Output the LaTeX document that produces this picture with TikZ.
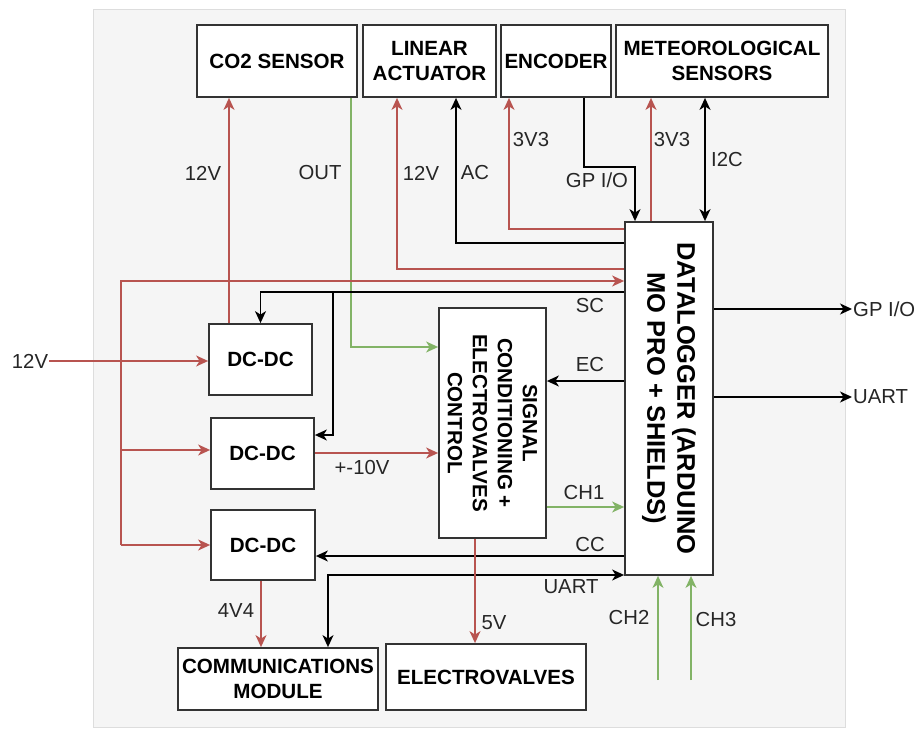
\documentclass[tikz,border=0pt]{standalone}
\usepackage{fontspec}
\setmainfont{Liberation Sans}
\usetikzlibrary{arrows.meta}
\definecolor{pwr}{HTML}{B85450}
\definecolor{sgn}{HTML}{82B366}
\definecolor{bord}{HTML}{333333}
\definecolor{bgfill}{HTML}{F5F5F5}
\definecolor{bgline}{HTML}{DDDDDD}
\begin{document}
\begin{tikzpicture}[x=1pt,y=-1pt,
  >={Stealth[length=12pt,width=11pt,inset=3.5pt]},
  box/.style={draw=bord, line width=1.8pt, fill=white, inner sep=0pt, align=center, text=black,
    font=\fontsize{20.6}{24.5}\selectfont\bfseries},
  rottext/.style={rotate=-90, align=center, inner sep=0pt, text=black},
  lbl/.style={font=\fontsize{20.3}{24}\selectfont, text=black!85, inner sep=1pt},
  wire/.style={line width=1.5pt, ->},
  blk/.style={wire, draw=black},
  pw/.style={wire, draw=pwr},
  gr/.style={wire, draw=sgn}
]
\useasboundingbox (0,0) rectangle (921,735);
\fill[white] (0,0) rectangle (921,735);
\draw[bgline, fill=bgfill, line width=1pt] (93,10) rectangle (845,727);

% boxes
\node[box, minimum width=160pt, minimum height=72pt] (co2) at (277,61) {CO2 SENSOR};
\node[box, minimum width=133pt, minimum height=72pt] (lin) at (429.5,61) {LINEAR\\ACTUATOR};
\node[box, minimum width=110pt, minimum height=72pt] (enc) at (556,61) {ENCODER};
\node[box, minimum width=212pt, minimum height=72pt] (met) at (722,61) {METEOROLOGICAL\\SENSORS};
\node[box, minimum width=88pt, minimum height=353pt] (dl) at (669,398.5) {};
\node[rottext, font=\fontsize{25.5}{30}\selectfont\bfseries] (dltext) at (dl.center) {DATALOGGER (ARDUINO\\MO PRO + SHIELDS)};
\node[box, minimum width=107pt, minimum height=230pt] (sig) at (492.5,423) {};
\node[rottext, font=\fontsize{20.6}{25}\selectfont\bfseries] (sigtext) at (sig.center) {SIGNAL\\CONDITIONING +\\ELECTROVALVES\\CONTROL};
\node[box, minimum width=103pt, minimum height=71pt] (dc1) at (260.5,359.5) {DC-DC};
\node[box, minimum width=103pt, minimum height=71pt] (dc2) at (262.5,453.5) {DC-DC};
\node[box, minimum width=104pt, minimum height=70pt] (dc3) at (263,545) {DC-DC};
\node[box, minimum width=200pt, minimum height=62pt] (com) at (278,679) {COMMUNICATIONS\\MODULE};
\node[box, minimum width=200pt, minimum height=66pt] (ev) at (486,677) {ELECTROVALVES};

% helper coordinates
\coordinate (x121) at (121,0);
\coordinate (x229) at (229,0);
\coordinate (x261) at (261,0);
\coordinate (x328) at (328,0);
\coordinate (x333) at (333,0);
\coordinate (x351) at (351,0);
\coordinate (x397) at (397,0);
\coordinate (x456) at (456,0);
\coordinate (x475) at (475,0);
\coordinate (x509) at (509,0);
\coordinate (x584) at (584,0);
\coordinate (x635) at (635,0);
\coordinate (x651) at (651,0);
\coordinate (x705) at (705,0);
\coordinate (y167) at (0,167);
\coordinate (y229) at (0,229);
\coordinate (y243) at (0,243);
\coordinate (y269) at (0,269);
\coordinate (y281) at (0,281);
\coordinate (y292) at (0,292);
\coordinate (y347) at (0,347);
\coordinate (y381) at (0,381);
\coordinate (y435) at (0,435);
\coordinate (y450) at (0,450);
\coordinate (y453) at (0,453);
\coordinate (y507) at (0,507);
\coordinate (y556) at (0,556);
\coordinate (y575) at (0,575);

% top connectors
\draw[pw] (dc1.north -| x229) -- (co2.south -| x229);
\node[lbl] (l12a) at (203,173) {12V};
\draw[gr] (co2.south -| x351) |- (sig.west |- y347);
\node[lbl] (lout) at (320,173) {OUT};
\draw[pw] (dl.west |- y269) -| (lin.south -| x397);
\node[lbl] (l12b) at (421,173) {12V};
\draw[blk] (dl.west |- y243) -| (lin.south -| x456);
\node[lbl] (lac) at (475,173) {AC};
\draw[pw] (dl.west |- y229) -| (enc.south -| x509);
\node[lbl] (l3a) at (531,140) {3V3};
\draw[blk] (enc.south -| x584) |- (y167 -| x635) -- (dl.north -| x635);
\node[lbl] (lgp) at (597,180) {GP I/O};
\draw[pw] (dl.north -| x651) -- (met.south -| x651);
\node[lbl] (l3b) at (672,140) {3V3};
\draw[blk, <->] (dl.north -| x705) -- (met.south -| x705);
\node[lbl] (li2c) at (727,160) {I2C};

% 12V input and bus
\node[lbl] (lin12) at (30,361) {12V};
\draw[pw] (lin12.east) -- (lin12.east -| dc1.west);
\draw[pw] (x121 |- dc3.west) |- (dl.west |- y281);
\draw[pw] (x121 |- dc3.west) -- (dc3.west);
\draw[pw] (x121 |- y450) -- (dc2.west |- y450);

% SC
\draw[blk] (dl.west |- y292) -| (dc1.north);
\draw[blk] (x333 |- y292) |- (dc2.east |- y435);
\node[lbl] (lsc) at (590,306) {SC};

% +-10V
\draw[pw] (dc2.east |- y453) -- (sig.west |- y453);
\node[lbl] (l10) at (362,468) {+-10V};

% EC
\draw[blk] (dl.west |- y381) -- (sig.east |- y381);
\node[lbl] (lec) at (590,365) {EC};

% right outputs
\node[lbl, anchor=west] (ogp) at (852,309) {GP I/O};
\draw[blk] (dl.east |- ogp.west) -- (ogp.west);
\node[lbl, anchor=west] (ouart) at (852,397) {UART};
\draw[blk] (dl.east |- ouart.west) -- (ouart.west);

% CH1, CC, UART
\draw[gr] (sig.east |- y507) -- (dl.west |- y507);
\node[lbl] (lch1) at (584,493) {CH1};
\draw[blk] (dl.west |- y556) -- (dc3.east |- y556);
\node[lbl] (lcc) at (590,545) {CC};
\draw[blk, <->] (dl.west |- y575) -| (com.north -| x328);
\node[lbl] (luart) at (571,587) {UART};

% bottom
\draw[pw] (dc3.south -| x261) -- (com.north -| x261);
\node[lbl] (l4v4) at (236,611) {4V4};
\draw[pw] (sig.south -| x475) -- (ev.north -| x475);
\node[lbl] (l5v) at (494,623) {5V};
\coordinate (c2) at (658,680);
\draw[gr] (c2) -- (dl.south -| c2);
\node[lbl] (lch2) at (629,618) {CH2};
\coordinate (c3) at (691,680);
\draw[gr] (c3) -- (dl.south -| c3);
\node[lbl] (lch3) at (716,620) {CH3};
\end{tikzpicture}
\end{document}
